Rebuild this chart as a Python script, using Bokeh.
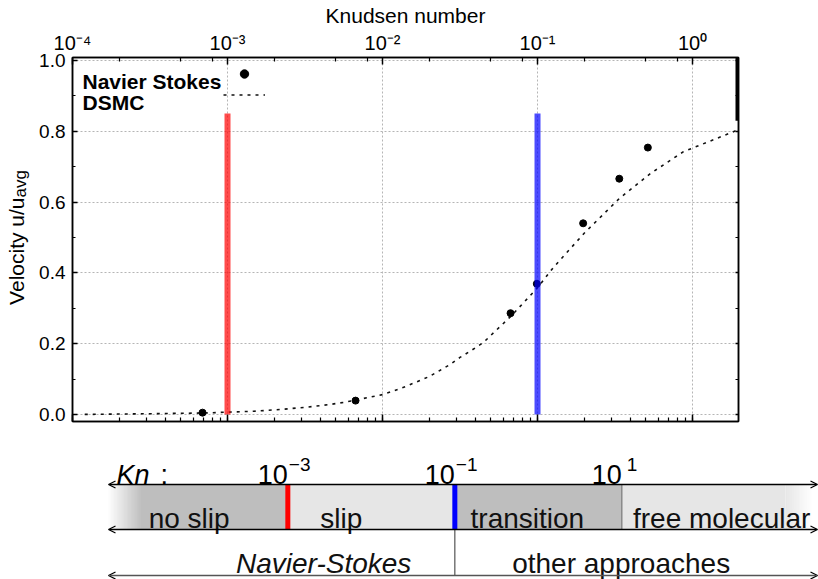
from bokeh.plotting import figure
from bokeh.models import (Range1d, FixedTicker, LogAxis, LinearAxis, Label, Legend, LegendItem,
                          PrintfTickFormatter, CustomJSTickFormatter, Arrow, OpenHead,
                          ColumnDataSource)
from bokeh.layouts import column, row
from bokeh.embed import file_html
from bokeh.resources import INLINE
from bokeh.core.properties import value

FONT = "Liberation Sans"

# ---------------- data ----------------
ns_kn = [0.00069, 0.0067, 0.067, 0.099, 0.197, 0.337, 0.515]
ns_u = [0.005, 0.039, 0.286, 0.369, 0.540, 0.666, 0.754]

dsmc_kn = [1.2e-4, 3.16e-4, 7.08e-4, 1.48e-3, 2.19e-3, 3.16e-3, 4.57e-3, 5.62e-3,
           8.13e-3, 1.0e-2, 1.17e-2, 1.41e-2, 1.66e-2, 2.0e-2, 2.34e-2, 2.75e-2,
           3.16e-2, 3.72e-2, 4.47e-2, 6.76e-2, 0.1, 0.126, 0.2, 0.339, 0.537,
           0.871, 1.82, 1.98]
dsmc_u = [0.000, 0.002, 0.004, 0.009, 0.014, 0.020, 0.028, 0.034, 0.048, 0.056,
          0.066, 0.079, 0.092, 0.107, 0.124, 0.142, 0.161, 0.180, 0.203, 0.278,
          0.358, 0.414, 0.512, 0.611, 0.681, 0.742, 0.798, 0.805]

limit_kn = [1e-3, 1e-1]
limit_top = [0.85, 0.85]
limit_colors = ["#ff0000", "#0000ff"]

x_ticks = [1e-4, 1e-3, 1e-2, 1e-1, 1e0]
x_tick_labels = ["10⁻⁴", "10⁻³", "10⁻²", "10⁻¹", "10⁰"]
x_minor_mult = [2, 5, 8]
y_ticks = [0.0, 0.2, 0.4, 0.6, 0.8, 1.0]
y_minor = [0.1, 0.3, 0.5, 0.7, 0.9]
y_title = ["Velocity u/u", "avg"]

regime_names = ["no slip", "slip", "transition", "free molecular"]
regime_edges = [-3, -1, 1]          # log10(Kn) boundaries
edge_exp_labels = ["−3", "−1", "\u20091"]
method_names = ["Navier-Stokes", "other approaches"]
method_edge = -1

# ---------------- y title strip ----------------
LW = 36
t = figure(width=LW, height=440, x_range=Range1d(0, LW), y_range=Range1d(440, 0),
           output_backend="svg", toolbar_location=None, min_border=0,
           x_axis_location=None, y_axis_location=None)
t.frame_align = False
t.grid.visible = False
t.outline_line_color = None
t.text(x=[16], y=[197], text=[y_title[0]], angle=1.5707963, text_font=value(FONT),
       text_font_size="21px", text_align="right", text_baseline="alphabetic",
       text_color="black")
t.text(x=[20], y=[197], text=[y_title[1]], angle=1.5707963, text_font=value(FONT),
       text_font_size="17px", text_align="left", text_baseline="alphabetic",
       text_color="black")

# ---------------- main chart ----------------
x_minor = [m * d for d in x_ticks for m in x_minor_mult]
x_ticker = FixedTicker(ticks=x_ticks, minor_ticks=x_minor)
y_ticker = FixedTicker(ticks=y_ticks, minor_ticks=y_minor)

p = figure(width=818 - LW, height=440, x_axis_type="log",
           x_range=Range1d(1e-4, 1.98), y_range=Range1d(-0.02, 1.0085),
           output_backend="svg", toolbar_location=None,
           min_border_left=72 - LW, min_border_right=80, min_border_top=55,
           min_border_bottom=19)
p.frame_align = False
p.outline_line_color = "black"
p.outline_line_width = 1.5
p.background_fill_color = "white"

top_axis = LogAxis(ticker=x_ticker)
p.add_layout(top_axis, "above")
right_axis = LinearAxis(ticker=y_ticker)
p.add_layout(right_axis, "right")

p.xaxis[0].ticker = x_ticker
p.yaxis[0].ticker = y_ticker
p.xgrid.ticker = x_ticker
p.ygrid.ticker = y_ticker

for ax in [p.below[0], top_axis, p.left[0], right_axis]:
    ax.axis_line_color = "black"
    ax.axis_line_width = 1.5
    ax.major_tick_in = 7
    ax.major_tick_out = 0
    ax.minor_tick_in = 4
    ax.minor_tick_out = 0
    ax.major_tick_line_width = 1.5
    ax.minor_tick_line_width = 1.2
    ax.major_tick_line_color = "black"
    ax.minor_tick_line_color = "black"
    ax.major_label_text_font = FONT
    ax.major_label_text_font_size = "19px"
    ax.major_label_text_color = "black"

p.left[0].major_tick_in = 5
p.left[0].minor_tick_in = 3
right_axis.major_tick_in = 3
right_axis.minor_tick_in = 3

for ax in [p.below[0], right_axis]:
    ax.formatter = CustomJSTickFormatter(code="return ''")
    ax.major_label_text_font_size = "0px"
    ax.major_label_standoff = 0

top_axis.major_label_overrides = {tk: s for tk, s in zip(x_ticks, x_tick_labels)}
top_axis.major_label_text_font_size = "20px"
top_axis.major_label_standoff = 4
top_axis.axis_label = "Knudsen number"
top_axis.axis_label_text_font = FONT
top_axis.axis_label_text_font_size = "21px"
top_axis.axis_label_text_font_style = "normal"
top_axis.axis_label_text_color = "black"
top_axis.axis_label_standoff = 2

p.left[0].formatter = PrintfTickFormatter(format="%.1f")
p.left[0].major_label_standoff = 7

for g in [p.xgrid[0], p.ygrid[0]]:
    g.grid_line_color = "#b5b5b5"
    g.grid_line_dash = "2 2"
    g.grid_line_width = 1

dsmc = p.line(dsmc_kn, dsmc_u, line_color="#111111", line_width=1.6, line_dash="3 5")
ns = p.scatter(ns_kn, ns_u, size=7, color="black")
p.segment(x0=limit_kn, x1=limit_kn, y0=[0, 0], y1=limit_top,
          line_color=limit_colors, line_width=6, line_alpha=0.7)
# thick frame piece at the upper right
p.segment(x0=[1.98], x1=[1.98], y0=[0.83], y1=[1.0085], line_color="black", line_width=6)

legend = Legend(items=[LegendItem(label=" ", renderers=[ns]),
                       LegendItem(label=" ", renderers=[dsmc])],
                location=(151, 316), orientation="vertical",
                glyph_width=42, glyph_height=21, label_height=21, label_width=1,
                label_standoff=0, spacing=0, padding=0, margin=0,
                border_line_color=None, background_fill_alpha=0,
                label_text_font_size="10px")
p.add_layout(legend, "center")

for txt, yy in [("Navier Stokes", 340), ("DSMC", 319)]:
    p.add_layout(Label(x=10, y=yy, x_units="screen", y_units="screen", text=txt,
                       text_font=FONT, text_font_size="21px", text_font_style="bold",
                       text_align="left", text_baseline="alphabetic", text_color="black"))

# ---------------- regime diagram ----------------
PX0 = 454.33      # pixel of log10(Kn) = -1
PPD = 83.5        # pixels per decade
x_lo = -1 - PX0 / PPD
x_hi = -1 + (818 - PX0) / PPD
L = -1 + (108 - PX0) / PPD
R = -1 + (817 - PX0) / PPD

q = figure(width=818, height=139, x_range=Range1d(x_lo, x_hi), y_range=Range1d(139, 0),
           output_backend="svg", toolbar_location=None, min_border=0,
           x_axis_location=None, y_axis_location=None)
q.frame_align = False
q.grid.visible = False
q.outline_line_color = None

ROW_TOP, ROW_MID, ROW_BOT = 44, 89, 135
DARK, LIGHT = "#bebebe", "#e6e6e6"
fade_l = 34 / PPD
fade_r0 = R - 32 / PPD
fade_r1 = R - 4 / PPD

lefts = [L + fade_l] + regime_edges
rights = regime_edges + [fade_r0]
q.quad(left=lefts, right=rights, top=[ROW_TOP] * 4, bottom=[ROW_MID] * 4,
       fill_color=[DARK, LIGHT, DARK, LIGHT], line_color=None)

n = 24
def mix(c1, c2, f):
    a = [int(c1[i:i + 2], 16) for i in (1, 3, 5)]
    b = [int(c2[i:i + 2], 16) for i in (1, 3, 5)]
    return "#%02x%02x%02x" % tuple(round(a[k] + (b[k] - a[k]) * f) for k in range(3))

# overlapping slices (each covers the next) so no seams show
gl = [L + fade_l * i / n for i in range(n)]
gr = [L + fade_l * (i + 2) / n for i in range(n)]
gc = [mix("#ffffff", DARK, (i + 1) / n) for i in range(n)]
rl = [fade_r0 + (fade_r1 - fade_r0) * i / n for i in range(n)]
rr = [fade_r0 + (fade_r1 - fade_r0) * (i + 2) / n for i in range(n)]
rc = [mix(LIGHT, "#ffffff", (i + 1) / n) for i in range(n)]
q.quad(left=gl + rl, right=gr + rr, top=[ROW_TOP] * (2 * n), bottom=[ROW_MID] * (2 * n),
       fill_color=gc + rc, line_color=None)

q.segment(x0=regime_edges, x1=regime_edges, y0=[ROW_TOP] * 3, y1=[ROW_MID] * 3,
          line_color=["#ff0000", "#0000ff", "#777777"], line_width=[5, 5, 1.2])
q.segment(x0=[method_edge], x1=[method_edge], y0=[ROW_MID], y1=[ROW_BOT],
          line_color="#555555", line_width=1.2)

for rw, col in [(ROW_TOP, "black"), (ROW_MID, "black"), (ROW_BOT, "#555555")]:
    q.add_layout(Arrow(x_start=L, y_start=rw, x_end=R, y_end=rw,
                       line_color=col, line_width=1.3,
                       start=OpenHead(size=7, line_width=1.3, line_color="black"),
                       end=OpenHead(size=7, line_width=1.3, line_color="black")))

# Kn scale labels
q.text(x=[L], y=[34], text=["Kn"], text_font=value(FONT), text_font_size="27px",
       text_font_style="italic", text_align="left", text_baseline="alphabetic", x_offset=8)
q.text(x=[L], y=[34], text=[":"], text_font=value(FONT), text_font_size="27px",
       text_align="left", text_baseline="alphabetic", x_offset=52)
q.text(x=regime_edges, y=[34] * 3, text=["10"] * 3, text_font=value(FONT),
       text_font_size="27px", text_align="right", text_baseline="alphabetic", x_offset=0)
q.text(x=regime_edges, y=[24] * 3, text=edge_exp_labels, text_font=value(FONT),
       text_font_size="19px", text_align="left", text_baseline="alphabetic", x_offset=1)

reg_src = ColumnDataSource(dict(
    x=[(a + b) / 2 for a, b in zip([L] + regime_edges, regime_edges + [R])],
    text=regime_names, off=[-9, -30, -11, 2]))
q.text(x="x", y=78, text="text", source=reg_src, text_font=value(FONT),
       text_font_size="28px", text_align="center", text_baseline="alphabetic",
       x_offset="off", text_color="#111111")

meth_src = ColumnDataSource(dict(
    x=[(L + method_edge) / 2, (method_edge + R) / 2], text=method_names,
    off=[42, -15], style=["italic", "normal"]))
q.text(x="x", y=123, text="text", source=meth_src, text_font=value(FONT),
       text_font_size="28px", text_align="center", text_baseline="alphabetic",
       x_offset="off", text_font_style="style", text_color="#111111")

layout = column(row(t, p, spacing=0), q, spacing=0)
open("out.html", "w").write(file_html(layout, INLINE))
